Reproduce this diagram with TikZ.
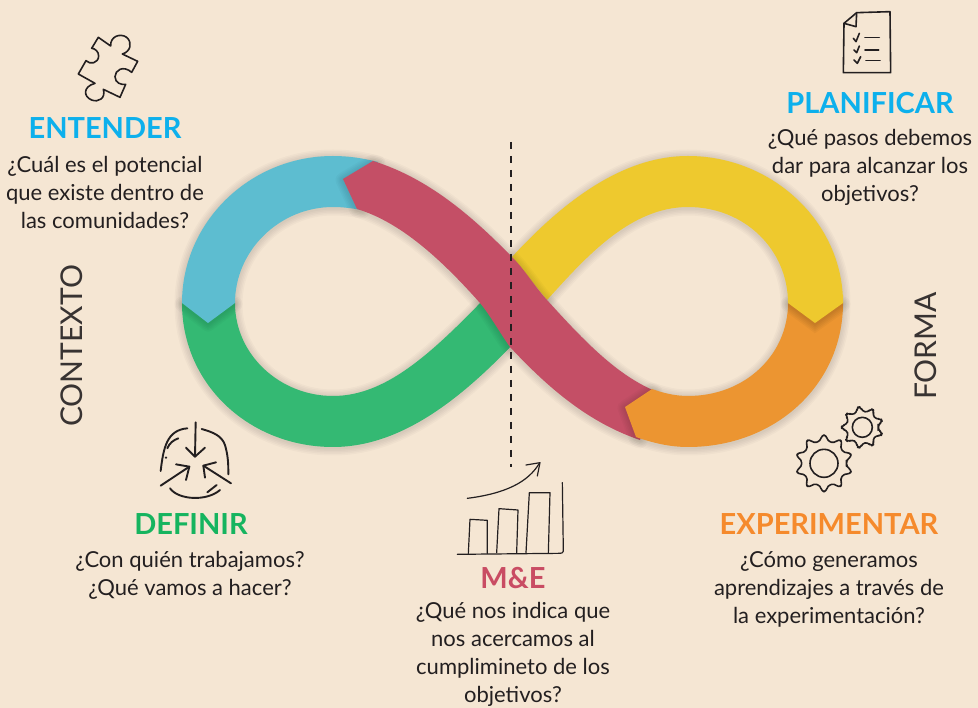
\documentclass[tikz,border=0pt]{standalone}
\usepackage{fontspec}
\setmainfont{Lato}
\definecolor{bgc}{HTML}{F5E6D3}
\definecolor{ink}{HTML}{231F20}
\definecolor{cblue}{HTML}{5DBDD0}
\definecolor{cgreen}{HTML}{34B973}
\definecolor{cred}{HTML}{C44F66}
\definecolor{cyellow}{HTML}{EEC92E}
\definecolor{corange}{HTML}{EC9531}
\definecolor{tcyan}{HTML}{0DB0EC}
\definecolor{tgreen}{HTML}{16B45F}
\definecolor{tred}{HTML}{C94C63}
\definecolor{torange}{HTML}{F58A2C}
\tikzset{
  head/.style={font=\bfseries\fontsize{29}{32}\selectfont,inner sep=0pt},
  body/.style={font=\fontsize{22}{28}\selectfont,align=center,text=ink,inner sep=0pt},
  side/.style={font=\fontsize{30}{32}\selectfont,text=ink!90!bgc,rotate=90,inner sep=0pt},
  iconline/.style={draw=ink,line width=1.6pt,line cap=round,line join=round},
  icon/.style={shift={#1},scale=1/3}
}
\newcommand{\softshape}[2]{%
  \foreach \w in {15,12,9,6,3}{\draw[black,opacity=.022,line width=\w pt,line join=round,yshift=-1pt] #2;}
  \fill[#1] #2;}
\newcommand{\gearicon}[6]{% cx cy outer root inner teeth
  \draw[iconline,rounded corners=3pt]
    ($(#1,#2)+(0:#4)$)
    \foreach \k in {1,...,#6}{
      -- ($(#1,#2)+({(\k-1+.25)*360/#6}:#4)$)
      -- ($(#1,#2)+({(\k-1+.37)*360/#6}:#3)$)
      -- ($(#1,#2)+({(\k-1+.63)*360/#6}:#3)$)
      -- ($(#1,#2)+({(\k-1+.75)*360/#6}:#4)$)
    } -- cycle;
  \draw[iconline] (#1,#2) circle (#5);}
\usetikzlibrary{calc}
\begin{document}
\begin{tikzpicture}[x=1pt,y=-1pt]
\fill[bgc] (0,0) rectangle (978,708);
\useasboundingbox (0,0) rectangle (978,708);
% green
\softshape{cgreen}{(182,303) .. controls (182,385) and (250,447) .. (333,447) .. controls (400,447) and (460,400) .. (515,342) -- (485,298) .. controls (430,355) and (385,396) .. (333,396) .. controls (280,396) and (235,355) .. (235,303) -- cycle}
% blue
\softshape{cblue}{(182,303) -- (208,323) -- (235,303) .. controls (235,250) and (280,207) .. (333,207) .. controls (342,207) and (350,208) .. (362,210) -- (378,162) .. controls (362,158) and (348,156) .. (333,156) .. controls (250,156) and (182,222) .. (182,303) -- cycle}
% yellow
\softshape{cyellow}{(512,257) .. controls (560,205) and (620,156) .. (688,156) .. controls (772,156) and (843,222) .. (843,303) -- (815,323) -- (788,303) .. controls (788,250) and (745,207) .. (688,207) .. controls (630,207) and (585,258) .. (547,300) -- cycle}
% red
\softshape{cred}{(373,161) .. controls (428,178) and (472,216) .. (512,257) .. controls (525,270) and (535,287) .. (547,300) .. controls (585,342) and (617,375) .. (655,391) -- (640,440) .. controls (590,423) and (550,390) .. (510,347) .. controls (500,333) and (490,315) .. (480,303) .. controls (440,258) and (400,222) .. (357,209) -- (343,179) -- cycle}
% orange
\softshape{corange}{(652,389) .. controls (663,393) and (675,396) .. (688,396) .. controls (745,396) and (788,355) .. (788,303) -- (815,315) -- (843,303) .. controls (843,385) and (775,447) .. (688,447) .. controls (670,447) and (653,443) .. (636,437) -- (625,407) -- cycle}
% yellow tip over orange
\begin{scope}
  \clip (788,303) -- (788,340) -- (843,340) -- (843,303) -- cycle;
  \foreach \w in {15,12,9,6,3}{\draw[black,opacity=.03,line width=\w pt,yshift=-1pt] (843,303) -- (815,323) -- (788,303);}
\end{scope}
\fill[cyellow] (843,303) -- (815,323) -- (788,303) -- (788,295) -- (843,295) -- cycle;
% axis
\coordinate (axisTop) at (511,142);
\coordinate (axisEnd) at (511,467);
\draw[ink,line width=1.5pt,dash pattern=on 7pt off 7pt] (axisTop) -- (axisEnd);
% text
\node[head,text=tcyan] (entender) at (105,128.5) {ENTENDER};
\node[body] (entenderq) at (105,192) {¿Cuál es el potencial\\que existe dentro de\\las comunidades?};
\node[head,text=tcyan] (planificar) at (870,103.5) {PLANIFICAR};
\node[body] (planificarq) at (870,167.5) {¿Qué pasos debemos\\dar para alcanzar los\\objetivos?};
\node[head,text=tgreen] (definir) at (191,524.5) {DEFINIR};
\node[body] (definirq) at (190,575) {¿Con quién trabajamos?\\¿Qué vamos a hacer?};
\node[head,text=tred] (mye) at (513,578.5) {M\&E};
\node[body] (myeq) at (513,654.5) {¿Qué nos indica que\\nos acercamos al\\cumplimineto de los\\objetivos?};
\node[head,text=torange] (experimentar) at (829,524.5) {EXPERIMENTAR};
\node[body] (experimentarq) at (829,589.5) {¿Cómo generamos\\aprendizajes a través de\\la experimentación?};
\node[side] (contexto) at (72,346) {CONTEXTO};
\node[side] (forma) at (926,346) {FORMA};
% puzzle
\begin{scope}[icon={(60,20)}]
\draw[iconline] (115,52) -- (152,78) .. controls (150,50) and (180,38) .. (200,52) .. controls (218,68) and (212,95) .. (187,102) -- (233,124) -- (215,157) .. controls (190,135) and (165,150) .. (165,170) .. controls (165,190) and (185,195) .. (197,193) -- (180,232) -- (130,208) .. controls (138,235) and (115,248) .. (95,240) .. controls (70,230) and (68,200) .. (105,190) -- (55,162) -- (78,122) .. controls (90,135) and (115,130) .. (116,108) .. controls (116,95) and (105,85) .. (95,85) -- cycle;
\end{scope}
% checklist
\begin{scope}[icon={(830,0)}]
\draw[iconline] (80,38) -- (180,35) -- (182,218) -- (40,218) -- (42,70) -- cycle;
\draw[iconline] (42,70) -- (78,80) -- (80,38);
\draw[iconline] (70,115) -- (78,125) -- (88,100);
\draw[iconline] (105,113) -- (148,113);
\draw[iconline] (72,150) -- (80,158) -- (88,138);
\draw[iconline] (105,150) -- (146,150);
\draw[iconline] (72,180) -- (82,190) -- (92,170);
\draw[iconline] (108,182) -- (150,182);
\end{scope}
% define
\begin{scope}[icon={(150,415)},iconline/.append style={line width=1.9pt}]
\draw[iconline] (137,22) -- (135,125);
\draw[iconline] (108,98) -- (135,125) -- (165,98);
\draw[iconline] (32,168) .. controls (40,100) and (50,45) .. (112,40);
\draw[iconline] (52,100) .. controls (58,85) and (70,75) .. (85,70);
\fill[ink] (48,128) circle (4);
\draw[iconline] (155,42) .. controls (190,52) and (215,62) .. (225,90) .. controls (235,125) and (235,150) .. (235,178);
\draw[iconline] (32,212) -- (118,155);
\draw[iconline] (78,148) -- (118,155) -- (108,195);
\draw[iconline] (243,205) -- (160,152);
\draw[iconline] (198,142) -- (160,152) -- (165,188);
\draw[iconline] (60,220) .. controls (85,255) and (170,260) .. (210,225);
\draw[iconline] (172,232) -- (200,210);
\end{scope}
% bars
\begin{scope}[icon={(450,450)},iconline/.append style={line width=1.2pt}]
\draw[iconline] (22,313) -- (330,310) .. controls (336,310) and (340,308) .. (340,303) -- (337,98);
\draw[iconline] (55,310) -- (60,208) -- (112,211) -- (112,310);
\draw[iconline] (140,308) -- (147,176) -- (204,180) -- (200,308);
\draw[iconline] (228,308) -- (238,128) -- (300,128) -- (295,310);
\draw[iconline] (52,145) .. controls (170,130) and (235,95) .. (268,40);
\draw[iconline] (228,45) -- (270,38) -- (262,78);
\end{scope}
% gears
\begin{scope}[icon={(785,400)}]
\gearicon{117}{190}{85}{68}{42}{10}
\gearicon{232}{82}{62}{48}{30}{9}
\end{scope}
\end{tikzpicture}
\end{document}
